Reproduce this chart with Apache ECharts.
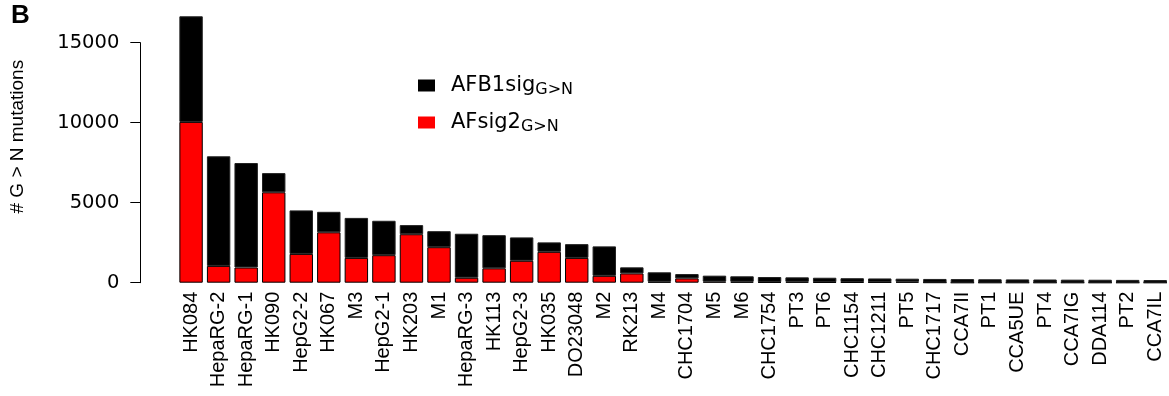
<!DOCTYPE html>
<html>
<head>
<meta charset="utf-8">
<script src="https://cdn.jsdelivr.net/npm/echarts@6/dist/echarts.min.js"></script>
<style>
html,body{margin:0;padding:0;background:#fff;}
#chart{width:1169px;height:396px;}
</style>
</head>
<body>
<div id="chart"></div>
<script>
const samples = ['HK084','HepaRG-2','HepaRG-1','HK090','HepG2-2','HK067','M3','HepG2-1','HK203','M1','HepaRG-3','HK113','HepG2-3','HK035','DO23048','M2','RK213','M4','CHC1704','M5','M6','CHC1754','PT3','PT6','CHC1154','CHC1211','PT5','CHC1717','CCA7II','PT1','CCA5UE','PT4','CCA7IG','DDA114','PT2','CCA7IL'];
// red (AFsig2) portion, bottom of stack
const afsig2 = [10050,1050,950,5650,1800,3150,1550,1720,3030,2220,310,900,1370,1930,1550,430,580,60,270,70,60,40,60,40,40,30,60,10,0,0,0,0,0,0,0,0];
// black (AFB1sig) portion, stacked on top
const afb1sig = [6600,6850,6530,1200,2720,1280,2500,2150,570,1000,2750,2070,1460,590,860,1840,380,590,270,370,340,315,275,270,240,235,190,225,225,215,205,200,190,185,175,165];
const yTicks = {min:0, max:15000, interval:5000};

const ARIAL = "'Liberation Sans', Arial, sans-serif";
const chart = echarts.init(document.getElementById('chart'), null, {renderer:'canvas'});
const legendRich = {
  a:{fontFamily:'DejaVu Sans', fontSize:21, lineHeight:24, color:'#000', verticalAlign:'middle', padding:[0,0,0,11]},
  b:{fontFamily:'DejaVu Sans', fontSize:16, lineHeight:18, color:'#000', verticalAlign:'bottom', padding:[25,0,0,0]}
};
const legendBase = {
  orient:'vertical', padding:0, itemWidth:17, itemHeight:12, icon:'rect',
  selectedMode:false, itemStyle:{borderWidth:0},
  textStyle:{rich:legendRich}
};
chart.setOption({
  animation:false,
  backgroundColor:'#fff',
  title:{text:'B', left:11, top:3, padding:0,
    textStyle:{fontFamily:ARIAL, fontWeight:'bold', fontSize:26, color:'#000'}},
  legend:[
    Object.assign({}, legendBase, {left:418, top:56.5, data:['AFB1sig'], formatter:()=>'{a|AFB1sig}{b|G>N}'}),
    Object.assign({}, legendBase, {left:418, top:93.5, data:['AFsig2'], formatter:()=>'{a|AFsig2}{b|G>N}'})
  ],
  grid:{left:177.3, width:996, top:42.7, bottom:113.3, containLabel:false},
  xAxis:{
    type:'category', data:samples,
    axisLine:{show:false}, axisTick:{show:false},
    axisLabel:{interval:0, rotate:90, margin:9, fontFamily:ARIAL, fontSize:20, color:'#000'}
  },
  yAxis:{
    type:'value', min:yTicks.min, max:yTicks.max, interval:yTicks.interval,
    offset:37,
    name:'# G > N mutations', nameLocation:'middle', nameRotate:90, nameGap:113,
    nameTextStyle:{fontFamily:ARIAL, fontSize:19, color:'#000', padding:[0,0,0,52]},
    splitLine:{show:false},
    axisLine:{show:true, lineStyle:{color:'#000', width:1}},
    axisTick:{show:true, length:10, lineStyle:{color:'#000', width:1}},
    axisLabel:{margin:21, fontFamily:'DejaVu Sans', fontSize:19.5, color:'#000',
      formatter:v=>String(v)}
  },
  series:[
    {name:'AFsig2', type:'bar', stack:'g', data:afsig2, barCategoryGap:'15%', clip:false,
     itemStyle:{color:'#ff0000', borderColor:'#000', borderWidth:1}},
    {name:'AFB1sig', type:'bar', stack:'g', data:afb1sig, barCategoryGap:'15%', clip:false,
     itemStyle:{color:'#000', borderColor:'#222', borderWidth:1}}
  ]
});
</script>
</body>
</html>
